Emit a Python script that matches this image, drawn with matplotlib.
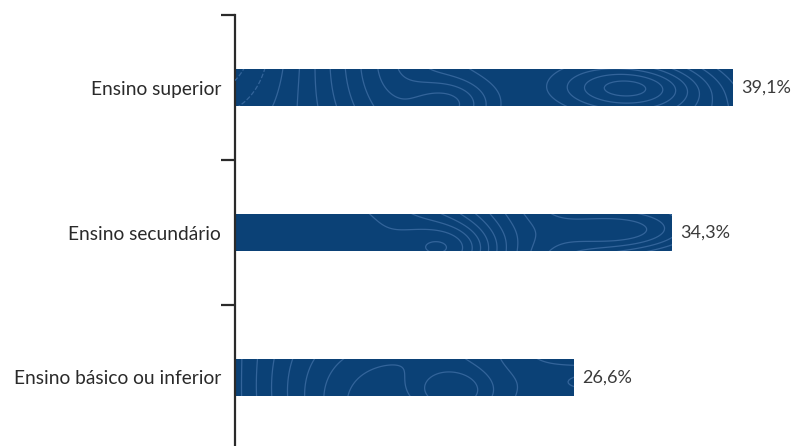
import numpy as np
import matplotlib
matplotlib.use("Agg")
import matplotlib.pyplot as plt

categories = ["Ensino básico ou inferior", "Ensino secundário", "Ensino superior"]
values = [26.6, 34.3, 39.1]
value_labels = ["26,6%", "34,3%", "39,1%"]

plt.rcParams['font.family'] = ['Lato', 'DejaVu Sans']

fig = plt.figure(figsize=(7.96, 4.46), dpi=100)
W, H = 796, 446
left_px, top_px, bottom_px = 235, 15, 450
ax = fig.add_axes([left_px / W, 1 - bottom_px / H, (W - left_px) / W, (bottom_px - top_px) / H])

bar_color = "#0b4176"
line_color = "#33649a"
y = np.arange(len(categories))
bars = ax.barh(y, values, height=0.262, color=bar_color, zorder=2)

ax.set_xlim(0, (W - left_px) / 12.74)
ax.set_ylim(-0.5, len(categories) - 0.5)

# subtle contour texture inside bars
xs = np.linspace(0, 45, 500)
ys = np.linspace(-0.5, 2.5, 300)
X, Y = np.meshgrid(xs, ys)
Z = (X * 0.35 + 1.6 * np.sin(X / 5.0 + 2.2 * Y) + 1.2 * np.sin(X / 11.0 - 3.0 * Y)
     - 4.0 * np.exp(-((X - 31) ** 2 / 30 + (Y - np.round(Y)) ** 2 * 40))
     - 3.0 * np.exp(-((X - 17) ** 2 / 12 + (Y - np.round(Y) + 0.1) ** 2 * 30)))
for b in bars:
    cs = ax.contour(X, Y, Z, levels=np.arange(-5, 20, 0.9), colors=line_color,
                    linewidths=0.9, zorder=3)
    cs.set_clip_path(b)

for yi, v, lab in zip(y, values, value_labels):
    ax.annotate(lab, (v, yi), xytext=(6, 0), textcoords="offset points",
                va="center", ha="left", fontsize=13, color="#3a3a3a")

for s in ["top", "right", "bottom"]:
    ax.spines[s].set_visible(False)
ax.spines["left"].set_color("#2a2a2a")
ax.spines["left"].set_linewidth(1.6)
ax.set_xticks([])
ax.set_yticks(y)
ax.set_yticklabels(categories, fontsize=13.8, color="#2a2a2a")
ax.tick_params(axis="y", which="major", length=0, pad=10)
ax.set_yticks(np.arange(-0.5, len(categories), 1.0), minor=True)
ax.tick_params(axis="y", which="minor", length=10, width=1.6, color="#2a2a2a")

fig.savefig("out.png", dpi=100)
